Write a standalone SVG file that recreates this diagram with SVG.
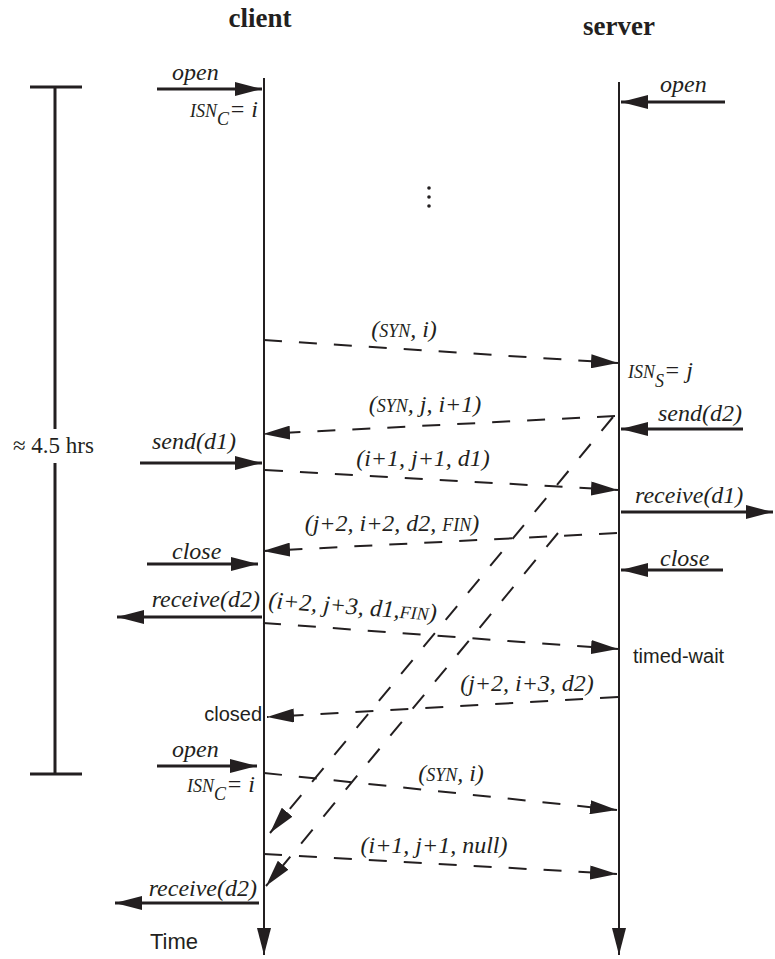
<svg xmlns="http://www.w3.org/2000/svg" width="775" height="959" viewBox="0 0 775 959">
<style>
.t{font-family:"Liberation Serif","Times New Roman",serif;font-style:italic;font-size:24px;fill:#231f20}
.sc{font-size:18px}
.title{font-family:"Liberation Serif","Times New Roman",serif;font-weight:bold;font-size:27px;fill:#231f20}
.rm{font-family:"Liberation Serif","Times New Roman",serif;font-size:23px;fill:#231f20}
.sans{font-family:"Liberation Sans",Arial,sans-serif;font-size:20px;fill:#231f20}
.life{stroke:#231f20;stroke-width:2;fill:none}
.solid{stroke:#231f20;stroke-width:3;fill:none}
.dash{stroke:#231f20;stroke-width:2;fill:none;stroke-dasharray:18 17}
</style>
<defs>
<marker id="ah" viewBox="0 0 27 14" refX="27" refY="7" markerWidth="27" markerHeight="14" markerUnits="userSpaceOnUse" orient="auto">
<path d="M0,0 L27,7 L0,14 z" fill="#231f20"/>
</marker>
</defs>
<rect width="775" height="959" fill="#fff"/>

<g id="client">
<text class="title" x="260" y="27" text-anchor="middle">client</text>
<line class="life" x1="264" y1="78" x2="264" y2="955" marker-end="url(#ah)"/>
</g>
<g id="server">
<text class="title" x="619" y="35" text-anchor="middle">server</text>
<line class="life" x1="619" y1="82" x2="619" y2="955" marker-end="url(#ah)"/>
</g>
<g id="duration">
<path class="solid" d="M30,87 H82 M55,87 V429 M55,463 V774 M30,774 H82"/>
<text class="rm" x="13" y="453">≈ 4.5 hrs</text>
</g>
<g id="ellipsis" fill="#231f20">
<circle cx="429" cy="188" r="1.8"/>
<circle cx="429" cy="197" r="1.8"/>
<circle cx="429" cy="206" r="1.8"/>
</g>

<g id="connectors">
<line class="solid" x1="157" y1="89" x2="262" y2="89" marker-end="url(#ah)"/>
<line class="solid" x1="725" y1="102" x2="621" y2="102" marker-end="url(#ah)"/>
<line class="solid" x1="743" y1="429" x2="621" y2="429" marker-end="url(#ah)"/>
<line class="solid" x1="140" y1="463" x2="262" y2="463" marker-end="url(#ah)"/>
<line class="solid" x1="621" y1="512" x2="773" y2="512" marker-end="url(#ah)"/>
<line class="solid" x1="147" y1="564" x2="258" y2="564" marker-end="url(#ah)"/>
<line class="solid" x1="723" y1="570" x2="621" y2="570" marker-end="url(#ah)"/>
<line class="solid" x1="262" y1="617" x2="117" y2="617" marker-end="url(#ah)"/>
<line class="solid" x1="157" y1="766" x2="257" y2="766" marker-end="url(#ah)"/>
<line class="solid" x1="259" y1="903" x2="115" y2="903" marker-end="url(#ah)"/>

<line class="dash" x1="264" y1="340" x2="618" y2="363" marker-end="url(#ah)"/>
<line class="dash" x1="615" y1="416" x2="263" y2="434" marker-end="url(#ah)"/>
<line class="dash" x1="265" y1="470" x2="618" y2="490" marker-end="url(#ah)"/>
<line class="dash" x1="617" y1="533" x2="263" y2="551" marker-end="url(#ah)"/>
<line class="dash" x1="263" y1="623" x2="618" y2="649" marker-end="url(#ah)"/>
<line class="dash" x1="618" y1="697" x2="267" y2="717" marker-end="url(#ah)"/>
<line class="dash" x1="264" y1="773" x2="617" y2="810" marker-end="url(#ah)"/>
<line class="dash" x1="264" y1="854" x2="617" y2="874" marker-end="url(#ah)"/>
<line class="dash" x1="613" y1="417" x2="270" y2="833" marker-end="url(#ah)"/>
<line class="dash" x1="558" y1="533" x2="266" y2="886" marker-end="url(#ah)"/>
</g>

<g id="labels">
<text class="t" x="172" y="80">open</text>
<text class="t" x="258" y="117" text-anchor="end"><tspan class="sc">ISN</tspan><tspan class="sc" dy="8">C</tspan><tspan dy="-8">= i</tspan></text>
<text class="t" x="660" y="92">open</text>
<text class="t" x="404" y="337" text-anchor="middle">(<tspan class="sc">SYN</tspan>, i)</text>
<text class="t" x="628" y="378"><tspan class="sc">ISN</tspan><tspan class="sc" dy="9">S</tspan><tspan dy="-9">= j</tspan></text>
<text class="t" x="425" y="412" text-anchor="middle">(<tspan class="sc">SYN</tspan>, j, i+1)</text>
<text class="t" x="658" y="421">send(d2)</text>
<text class="t" x="152" y="449">send(d1)</text>
<text class="t" x="423" y="466" text-anchor="middle">(i+1, j+1, d1)</text>
<text class="t" x="635" y="503">receive(d1)</text>
<text class="t" x="392" y="531" text-anchor="middle">(j+2, i+2, d2, <tspan class="sc">FIN</tspan>)</text>
<text class="t" x="172" y="559">close</text>
<text class="t" x="660" y="566">close</text>
<text class="t" x="260" y="607" text-anchor="end">receive(d2)</text>
<text class="t" x="268" y="608" transform="rotate(4.3 268 608)">(i+2, j+3, d1,<tspan class="sc">FIN</tspan>)</text>
<text class="sans" x="633" y="663">timed-wait</text>
<text class="t" x="527" y="691" text-anchor="middle">(j+2, i+3, d2)</text>
<text class="sans" x="262" y="721" text-anchor="end">closed</text>
<text class="t" x="172" y="757">open</text>
<text class="t" x="255" y="792" text-anchor="end"><tspan class="sc">ISN</tspan><tspan class="sc" dy="8">C</tspan><tspan dy="-8">= i</tspan></text>
<text class="t" x="451" y="781" text-anchor="middle">(<tspan class="sc">SYN</tspan>, i)</text>
<text class="t" x="434" y="853" text-anchor="middle">(i+1, j+1, null)</text>
<text class="t" x="257" y="896" text-anchor="end">receive(d2)</text>
<text class="sans" x="150" y="949" style="font-size:22px">Time</text>
</g>
</svg>
